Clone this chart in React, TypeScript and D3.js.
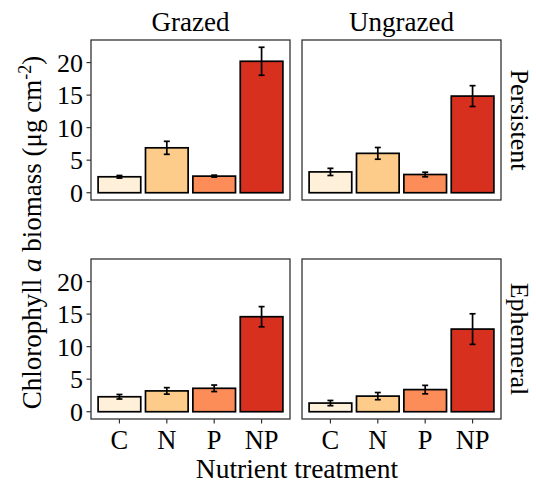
import { scaleBand, scaleLinear, max } from "d3"

const categories = ["C", "N", "P", "NP"]
const colors = ["#fef0d9", "#fdcc8a", "#fc8d59", "#d7301f"]
const grazingLabels = ["Grazed", "Ungrazed"]
const durationLabels = ["Persistent", "Ephemeral"]

// mean and standard error, per panel (row = duration, col = grazing)
const grazedPersistentMean = [2.45, 6.9, 2.55, 20.2]
const grazedPersistentSe = [0.2, 1.0, 0.15, 2.15]
const ungrazedPersistentMean = [3.2, 6.05, 2.8, 14.85]
const ungrazedPersistentSe = [0.55, 0.9, 0.35, 1.6]
const grazedEphemeralMean = [2.3, 3.2, 3.6, 14.6]
const grazedEphemeralSe = [0.35, 0.5, 0.5, 1.55]
const ungrazedEphemeralMean = [1.33, 2.4, 3.4, 12.7]
const ungrazedEphemeralSe = [0.4, 0.55, 0.65, 2.35]

const yTicks = [0, 5, 10, 15, 20]

const panels = [
  { row: 0, col: 0, mean: grazedPersistentMean, se: grazedPersistentSe },
  { row: 0, col: 1, mean: ungrazedPersistentMean, se: ungrazedPersistentSe },
  { row: 1, col: 0, mean: grazedEphemeralMean, se: grazedEphemeralSe },
  { row: 1, col: 1, mean: ungrazedEphemeralMean, se: ungrazedEphemeralSe },
]

const FONT = "'Liberation Serif', 'Times New Roman', serif"
const colX = [[91, 290], [302, 501]]
const rowY = [[40, 200], [259, 419]]

export default function App() {
  const top = max(panels.flatMap((p) => p.mean.map((m, i) => m + p.se[i]))) ?? 1
  const yDomain: [number, number] = [-top * 0.05, top * 1.05]

  return (
    <svg width={536} height={483} style={{ position: "absolute", left: 0, top: 0 }}>
      <rect width={536} height={483} fill="#fff" />
      {panels.map((p, pi) => {
        const [x0, x1] = colX[p.col]
        const [y0, y1] = rowY[p.row]
        const x = scaleBand().domain(categories).range([x0, x1]).paddingInner(0.1).paddingOuter(0.15)
        const y = scaleLinear().domain(yDomain).range([y1, y0])
        const bw = x.bandwidth()
        return (
          <g key={pi}>
            {/* bars */}
            {categories.map((c, i) => (
              <rect
                key={c}
                x={x(c)!}
                y={y(p.mean[i])}
                width={bw}
                height={y(0) - y(p.mean[i])}
                fill={colors[i]}
                stroke="#000"
                strokeWidth={1.7}
              />
            ))}
            {/* error bars */}
            {categories.map((c, i) => {
              const cx = x(c)! + bw / 2
              const lo = y(p.mean[i] - p.se[i])
              const hi = y(p.mean[i] + p.se[i])
              return (
                <g key={c} stroke="#000" strokeWidth={1.7}>
                  <line x1={cx} x2={cx} y1={lo} y2={hi} />
                  <line x1={cx - 3} x2={cx + 3} y1={lo} y2={lo} />
                  <line x1={cx - 3} x2={cx + 3} y1={hi} y2={hi} />
                </g>
              )
            })}
            <rect x={x0} y={y0} width={x1 - x0} height={y1 - y0} fill="none" stroke="#333" strokeWidth={1.3} />
            {/* y axis on left column */}
            {p.col === 0 &&
              yTicks.map((t) => (
                <g key={t}>
                  <line x1={x0 - 4.5} x2={x0} y1={y(t)} y2={y(t)} stroke="#333" strokeWidth={1.2} />
                  <text
                    x={x0 - 8}
                    y={y(t)}
                    dy="0.35em"
                    textAnchor="end"
                    fontFamily={FONT}
                    fontSize={26}
                    fill="#000"
                  >
                    {t}
                  </text>
                </g>
              ))}
            {/* x axis on bottom row */}
            {p.row === 1 &&
              categories.map((c) => (
                <g key={c}>
                  <line
                    x1={x(c)! + bw / 2}
                    x2={x(c)! + bw / 2}
                    y1={y1}
                    y2={y1 + 4.5}
                    stroke="#333"
                    strokeWidth={1.2}
                  />
                  <text
                    x={x(c)! + bw / 2}
                    y={y1 + 30}
                    textAnchor="middle"
                    fontFamily={FONT}
                    fontSize={26.5}
                    fill="#000"
                  >
                    {c}
                  </text>
                </g>
              ))}
          </g>
        )
      })}

      {/* strip labels */}
      {grazingLabels.map((g, i) => (
        <text
          key={g}
          x={(colX[i][0] + colX[i][1]) / 2}
          y={31}
          textAnchor="middle"
          fontFamily={FONT}
          fontSize={27}
          fill="#000"
        >
          {g}
        </text>
      ))}
      {durationLabels.map((d, i) => {
        const cy = (rowY[i][0] + rowY[i][1]) / 2
        return (
          <text
            key={d}
            transform={`translate(511,${cy}) rotate(90)`}
            textAnchor="middle"
            fontFamily={FONT}
            fontSize={26}
            fill="#000"
          >
            {d}
          </text>
        )
      })}

      {/* axis titles */}
      <text x={297} y={478} textAnchor="middle" fontFamily={FONT} fontSize={27.5} fill="#000">
        Nutrient treatment
      </text>
      <text
        transform={`translate(41,${(rowY[0][0] + rowY[1][1]) / 2 + 3}) rotate(-90)`}
        textAnchor="middle"
        fontFamily={FONT}
        fontSize={27}
        fill="#000"
      >
        Chlorophyll <tspan fontStyle="italic">a</tspan> biomass (μg cm
        <tspan dy={-10} fontSize={18}>-2</tspan>
        <tspan dy={10}>)</tspan>
      </text>
    </svg>
  )
}
